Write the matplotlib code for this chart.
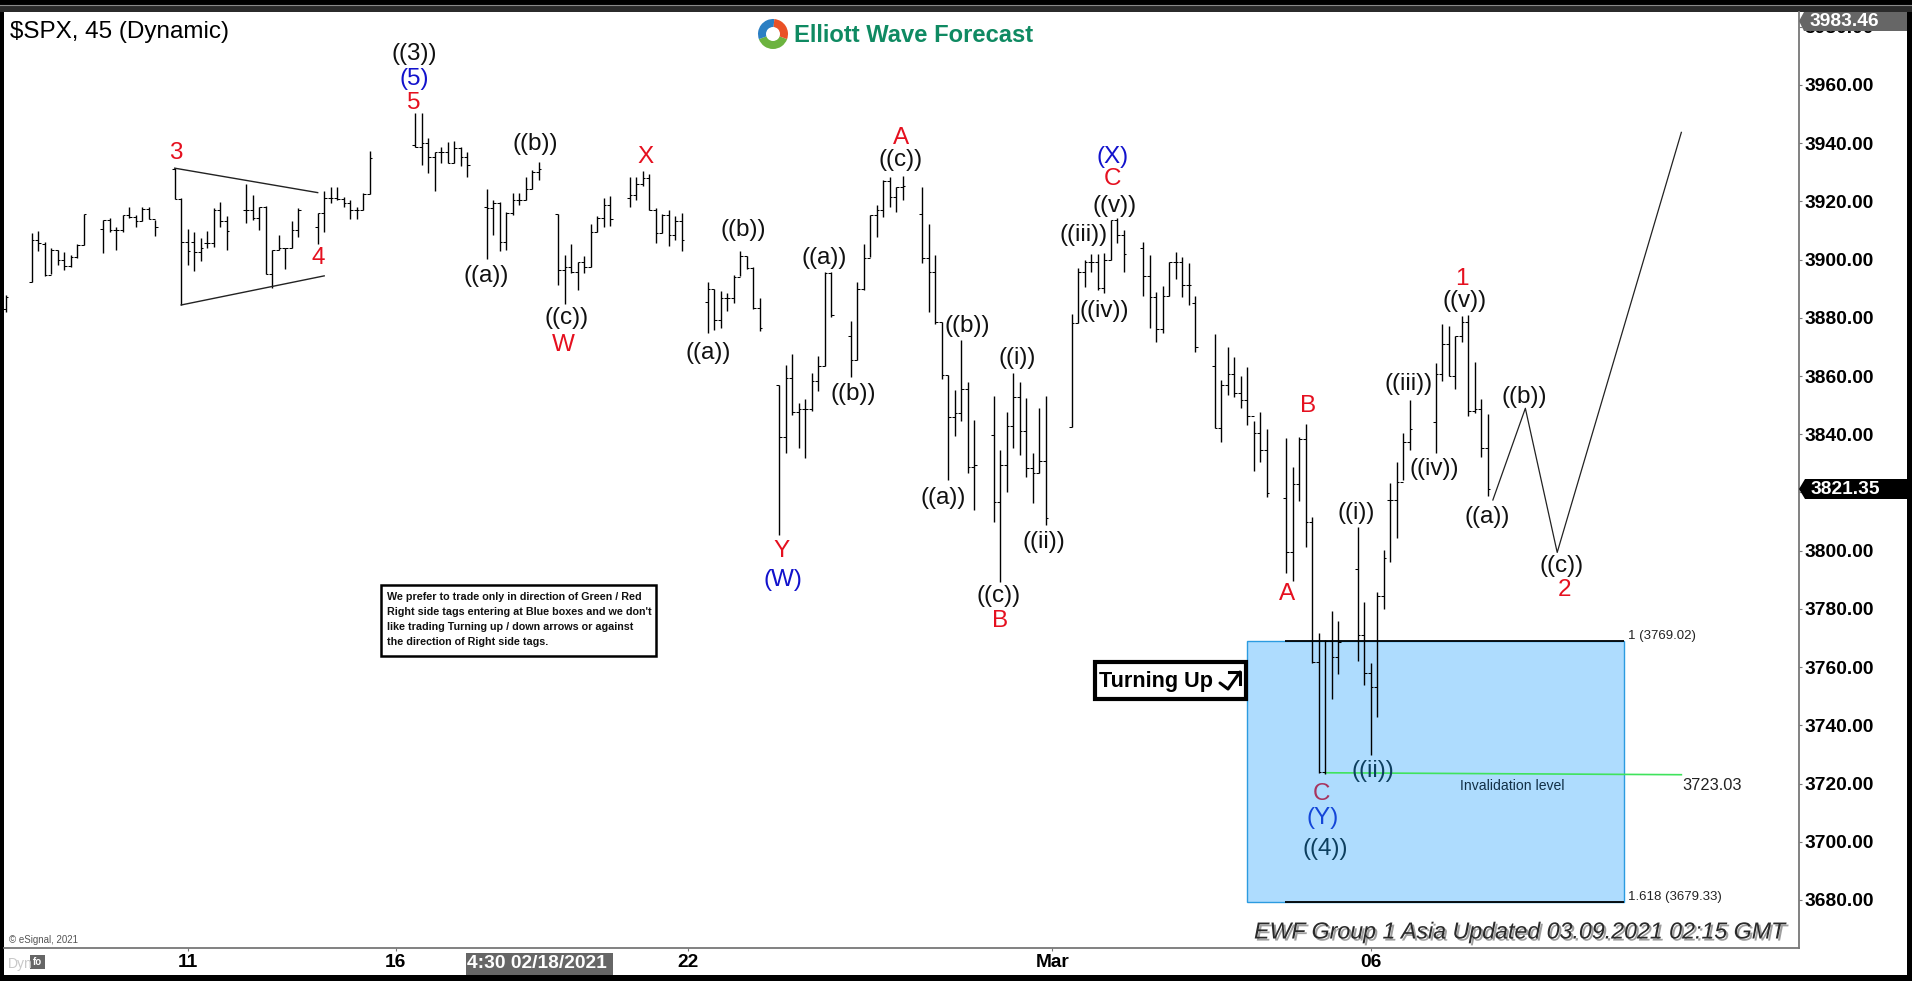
import matplotlib
matplotlib.use('Agg')
import matplotlib.pyplot as plt
from matplotlib.patches import Rectangle, Polygon, Wedge, Circle
import matplotlib.patheffects as pe

plt.rcParams['font.family'] = ['Liberation Sans', 'DejaVu Sans']

W, H = 1912, 981

# 45 minute bars, slot = bar number on the time axis (gaps are overnight)
slots = [0,
         4, 5, 6, 7, 8, 9, 10, 11, 12,
         15, 16, 17, 18, 19, 20, 21, 22, 23,
         26, 27, 28, 29, 30, 31, 32, 33, 34,
         37, 38, 39, 40, 41, 42, 43, 44, 45,
         48, 49, 50, 51, 52, 53, 54, 55, 56,
         63, 64, 65, 66, 67, 68, 69, 70, 71,
         74, 75, 76, 77, 78, 79, 80, 81, 82,
         85, 86, 87, 88, 89, 90, 91, 92, 93,
         96, 97, 98, 99, 100, 101, 102, 103, 104,
         108, 109, 110, 111, 112, 113, 114, 115, 116,
         119, 120, 121, 122, 123, 124, 125, 126, 127,
         130, 131, 132, 133, 134, 135, 136, 137, 138,
         141, 142, 143, 144, 145, 146, 147, 148, 149,
         152, 153, 154, 155, 156, 157, 158, 159, 160,
         164, 165, 166, 167, 168, 169, 170, 171, 172,
         175, 176, 177, 178, 179, 180, 181, 182, 183,
         186, 187, 188, 189, 190, 191, 192, 193, 194,
         197, 198, 199, 200, 201, 202, 203, 204, 205,
         208, 209, 210, 211, 212, 213, 214, 215, 216,
         220, 221, 222, 223, 224, 225, 226, 227, 228]

highs = [3887.9,
         3909.0, 3909.9, 3906.2, 3903.9, 3903.3, 3902.7, 3901.6, 3905.3, 3915.7,
         3913.6, 3914.2, 3911.3, 3915.3, 3918.0, 3915.3, 3918.0, 3918.2, 3913.6,
         3931.4, 3921.1, 3910.4, 3909.4, 3907.3, 3909.9, 3917.6, 3919.9, 3914.8,
         3926.0, 3922.2, 3918.2, 3918.4, 3903.3, 3908.5, 3903.9, 3913.1, 3917.6,
         3916.1, 3923.6, 3924.8, 3924.8, 3921.6, 3920.5, 3918.0, 3922.8, 3937.3,
         3950.3, 3950.3, 3941.7, 3936.8, 3938.8, 3940.5, 3940.6, 3938.8, 3936.8,
         3924.3, 3920.5, 3919.9, 3916.5, 3923.0, 3923.0, 3928.3, 3930.8, 3933.4,
         3915.6, 3901.6, 3905.4, 3899.3, 3901.3, 3912.3, 3914.8, 3921.1, 3921.9,
         3928.5, 3928.2, 3930.5, 3929.3, 3917.6, 3915.6, 3917.1, 3914.8, 3915.9,
         3892.2, 3889.9, 3889.2, 3888.4, 3894.7, 3902.8, 3901.3, 3897.6, 3886.7,
         3856.9, 3863.8, 3867.6, 3850.7, 3852.1, 3860.9, 3866.9, 3895.9, 3895.9,
         3878.9, 3892.2, 3905.4, 3915.3, 3918.8, 3927.4, 3928.2, 3925.1, 3928.7,
         3924.9, 3912.3, 3901.6, 3878.7, 3860.4, 3855.2, 3872.4, 3857.9, 3844.9,
         3853.2, 3834.6, 3847.8, 3860.9, 3857.9, 3852.4, 3833.5, 3848.9, 3853.2,
         3881.3, 3897.0, 3899.9, 3901.8, 3901.8, 3902.2, 3913.6, 3914.2, 3910.2,
         3906.2, 3901.6, 3889.0, 3891.0, 3899.3, 3902.5, 3900.8, 3898.7, 3887.5,
         3874.4, 3858.7, 3869.9, 3866.5, 3860.0, 3863.0, 3844.4, 3847.8, 3841.7,
         3838.6, 3828.9, 3839.2, 3843.4, 3811.5, 3771.6, 3769.4, 3779.3, 3775.9,
         3808.3, 3782.3, 3761.3, 3785.7, 3800.3, 3823.4, 3830.4, 3840.4, 3851.8,
         3864.4, 3877.9, 3877.2, 3873.8, 3880.7, 3881.1, 3864.7, 3852.0, 3847.0]

lows = [3882.1,
        3892.4, 3902.8, 3894.2, 3895.0, 3898.2, 3896.5, 3897.6, 3900.5, 3905.0,
        3902.4, 3909.6, 3903.3, 3909.6, 3914.2, 3911.3, 3913.1, 3913.9, 3908.1,
        3920.8, 3884.4, 3898.2, 3896.2, 3899.6, 3903.9, 3904.2, 3911.3, 3903.3,
        3912.5, 3913.6, 3910.2, 3895.0, 3890.2, 3903.3, 3896.8, 3903.9, 3907.6,
        3905.4, 3909.6, 3919.4, 3920.5, 3918.2, 3913.9, 3913.9, 3917.1, 3922.6,
        3938.8, 3932.5, 3929.7, 3923.7, 3933.1, 3933.1, 3933.1, 3932.3, 3928.5,
        3900.1, 3908.5, 3902.8, 3903.3, 3915.3, 3918.6, 3920.5, 3924.2, 3927.4,
        3891.3, 3884.8, 3895.3, 3889.4, 3895.3, 3897.4, 3909.6, 3911.3, 3911.6,
        3918.2, 3920.5, 3925.4, 3917.1, 3905.6, 3909.0, 3904.5, 3906.8, 3902.8,
        3874.7, 3875.8, 3876.4, 3882.5, 3885.2, 3894.2, 3896.7, 3882.9, 3875.3,
        3805.4, 3833.7, 3846.6, 3835.4, 3832.0, 3848.0, 3854.7, 3863.3, 3880.4,
        3859.5, 3865.5, 3889.6, 3900.8, 3907.9, 3914.5, 3918.0, 3916.5, 3920.5,
        3898.8, 3882.1, 3877.9, 3858.9, 3824.3, 3839.5, 3844.4, 3826.6, 3813.8,
        3809.7, 3789.4, 3820.3, 3835.4, 3832.9, 3825.2, 3816.5, 3826.8, 3808.9,
        3842.4, 3878.1, 3890.5, 3895.9, 3889.6, 3888.4, 3899.9, 3905.8, 3895.9,
        3887.5, 3876.6, 3871.8, 3874.7, 3887.5, 3893.2, 3887.3, 3884.4, 3868.4,
        3842.1, 3837.5, 3853.5, 3852.7, 3848.9, 3843.0, 3827.5, 3830.6, 3818.6,
        3792.3, 3789.7, 3816.9, 3801.4, 3761.3, 3723.5, 3723.3, 3749.2, 3757.7,
        3762.1, 3753.9, 3729.9, 3743.0, 3779.9, 3796.0, 3804.3, 3824.3, 3834.6,
        3833.5, 3858.4, 3860.1, 3855.6, 3871.6, 3846.4, 3847.2, 3832.3, 3818.9]

opens = [3883.0,
         3892.4, 3906.8, 3905.5, 3894.7, 3903.3, 3899.7, 3897.8, 3901.0, 3905.0,
         3910.4, 3913.6, 3910.2, 3910.2, 3915.3, 3914.5, 3913.3, 3917.4, 3914.0,
         3931.0, 3920.8, 3906.0, 3906.0, 3902.5, 3905.6, 3905.6, 3917.1, 3913.3,
         3917.1, 3917.1, 3914.4, 3918.0, 3895.0, 3903.3, 3903.9, 3903.9, 3910.2,
         3911.3, 3916.1, 3921.3, 3921.1, 3920.8, 3919.4, 3917.1, 3917.1, 3922.6,
         3939.2, 3938.8, 3940.0, 3935.4, 3936.8, 3936.8, 3933.1, 3938.2, 3935.2,
         3918.2, 3917.6, 3919.6, 3906.0, 3915.9, 3920.5, 3920.5, 3924.2, 3930.2,
         3915.6, 3896.5, 3897.3, 3895.6, 3899.1, 3897.4, 3909.6, 3914.4, 3918.8,
         3921.1, 3922.2, 3925.9, 3927.9, 3917.1, 3909.0, 3915.3, 3908.5, 3913.3,
         3885.3, 3889.9, 3879.3, 3886.7, 3886.7, 3893.9, 3901.3, 3897.0, 3883.3,
         3856.9, 3839.0, 3859.2, 3847.8, 3848.6, 3848.6, 3858.3, 3863.3, 3895.3,
         3873.8, 3865.5, 3889.8, 3900.5, 3915.3, 3917.1, 3927.0, 3921.6, 3925.1,
         3915.7, 3900.5, 3895.6, 3878.7, 3860.4, 3845.8, 3847.2, 3855.5, 3828.7,
         3839.8, 3816.7, 3829.5, 3842.9, 3852.7, 3841.2, 3828.3, 3826.8, 3830.8,
         3842.4, 3878.1, 3895.6, 3899.3, 3899.3, 3890.2, 3899.9, 3913.6, 3908.5,
         3903.9, 3894.2, 3887.3, 3876.2, 3887.6, 3899.3, 3899.3, 3891.1, 3885.0,
         3863.6, 3842.3, 3856.9, 3860.6, 3854.1, 3851.8, 3846.1, 3840.3, 3834.6,
         3818.2, 3799.5, 3822.9, 3838.3, 3809.8, 3761.9, 3723.8, 3769.1, 3763.4,
         3793.7, 3771.1, 3757.9, 3753.3, 3784.5, 3817.4, 3817.4, 3823.7, 3837.3,
         3844.1, 3860.6, 3870.9, 3860.1, 3873.6, 3878.5, 3848.0, 3848.6, 3835.4]

closes = [3887.3,
          3906.8, 3905.6, 3894.7, 3903.3, 3899.7, 3897.8, 3901.0, 3905.0, 3915.7,
          3913.6, 3910.2, 3910.2, 3915.3, 3914.5, 3913.3, 3917.4, 3914.0, 3911.1,
          3920.8, 3906.0, 3902.8, 3902.5, 3903.9, 3905.6, 3917.1, 3913.3, 3909.8,
          3917.1, 3914.4, 3918.2, 3895.0, 3903.3, 3903.9, 3903.9, 3910.2, 3917.0,
          3916.1, 3921.3, 3921.1, 3920.8, 3919.4, 3917.1, 3917.1, 3922.6, 3934.8,
          3938.8, 3940.0, 3935.4, 3936.8, 3936.8, 3933.1, 3938.2, 3935.2, 3932.5,
          3917.6, 3919.6, 3906.0, 3915.9, 3920.5, 3920.5, 3924.2, 3930.2, 3931.1,
          3896.5, 3897.3, 3895.6, 3899.1, 3897.4, 3909.6, 3914.4, 3918.8, 3913.9,
          3922.2, 3925.9, 3927.9, 3917.1, 3909.0, 3915.3, 3908.5, 3913.3, 3906.8,
          3889.9, 3879.3, 3886.7, 3886.7, 3893.9, 3901.3, 3897.0, 3883.3, 3876.4,
          3839.0, 3859.2, 3847.8, 3848.6, 3848.6, 3858.3, 3863.3, 3895.3, 3881.0,
          3865.5, 3889.8, 3900.5, 3915.3, 3917.1, 3927.0, 3921.6, 3925.1, 3925.3,
          3900.5, 3895.6, 3878.7, 3860.4, 3845.8, 3847.2, 3855.5, 3828.7, 3829.5,
          3816.7, 3829.5, 3842.9, 3852.7, 3841.2, 3828.3, 3826.8, 3830.8, 3811.1,
          3878.1, 3895.6, 3899.3, 3899.3, 3890.2, 3899.9, 3913.6, 3908.5, 3901.8,
          3894.2, 3887.3, 3876.2, 3887.6, 3899.3, 3899.3, 3891.1, 3891.1, 3870.1,
          3842.3, 3856.9, 3860.6, 3854.1, 3851.8, 3846.1, 3840.3, 3834.6, 3819.7,
          3799.5, 3822.9, 3838.3, 3809.8, 3761.9, 3723.8, 3769.1, 3763.4, 3768.6,
          3771.1, 3757.9, 3753.3, 3784.5, 3797.6, 3817.4, 3823.7, 3837.3, 3841.7,
          3860.6, 3870.9, 3860.1, 3873.6, 3878.5, 3848.0, 3848.6, 3835.4, 3821.2]

y_ticks = [3680, 3700, 3720, 3740, 3760, 3780, 3800, 3820, 3840, 3860, 3880, 3900, 3920, 3940, 3960, 3980]
x_tick_slots = [28, 60, 105, 161, 210]
x_tick_labels = ['11', '16', '22', 'Mar', '06']

triangle_top_x = [26, 48]
triangle_top_y = [3931.4, 3923.0]
triangle_low_x = [27, 49]
triangle_low_y = [3884.4, 3894.4]

path_x = [228.8, 233.8, 238.7, 257.8]
path_y = [3817.4, 3848.9, 3799.4, 3943.7]

box_slots = [190.9, 248.9]
box_line_start = 196.8
fib_1 = 3769.02
fib_1618 = 3679.33
invalid_x = [203, 257.8]
invalid_y = [3723.7, 3723.03]

RED = '#e5101f'
BLUE = '#1212cc'
INK = '#111111'
# labels sitting in the blue box look tinted in the original
wave_labels = [
    ('((3))', 414, 53, INK), ('(5)', 414, 78, BLUE), ('5', 414, 102, RED),
    ('3', 176, 152, RED), ('4', 318, 257, RED),
    ('((a))', 486, 275, INK), ('((b))', 535, 143, INK), ('((c))', 567, 317, INK),
    ('W', 563, 344, RED), ('X', 646, 156, RED),
    ('((b))', 743, 229, INK), ('((a))', 708, 352, INK),
    ('((a))', 824, 257, INK), ('((b))', 853, 393, INK),
    ('A', 901, 137, RED), ('((c))', 901, 159, INK),
    ('(X)', 1113, 156, BLUE), ('C', 1113, 178, RED), ('((v))', 1115, 205, INK),
    ('((iii))', 1084, 234, INK), ('((iv))', 1104, 310, INK),
    ('((b))', 967, 325, INK), ('((i))', 1017, 357, INK), ('((a))', 943, 497, INK),
    ('((ii))', 1044, 541, INK), ('((c))', 999, 595, INK), ('B', 1000, 620, RED),
    ('Y', 782, 550, RED), ('(W)', 783, 579, BLUE),
    ('1', 1462, 278, RED), ('((v))', 1465, 300, INK),
    ('B', 1308, 405, RED), ('A', 1287, 593, RED), ('((i))', 1356, 512, INK),
    ('((iii))', 1409, 383, INK), ('((iv))', 1434, 468, INK), ('((a))', 1487, 516, INK),
    ('((b))', 1524, 396, INK), ('((c))', 1562, 565, INK), ('2', 1565, 589, RED),
    ('((ii))', 1373, 770, '#0d3f5f'), ('C', 1322, 793, '#a8345e'),
    ('(Y)', 1323, 817, '#1446d8'), ('((4))', 1325, 848, '#0d3f5f'),
]


def px_axes(fig, zorder):
    # axes covering the whole figure, measured in image pixels
    ax = fig.add_axes([0, 0, 1, 1], zorder=zorder)
    ax.set_xlim(0, W)
    ax.set_ylim(H, 0)
    ax.axis('off')
    ax.patch.set_alpha(0)
    return ax


fig = plt.figure(figsize=(W / 100, H / 100), dpi=100, facecolor='black')

back = px_axes(fig, 0)
back.add_patch(Rectangle((4, 12), 1903, 963, fc='white', ec='none'))
back.add_patch(Rectangle((0, 5), W, 7, fc='#2b2b2b', ec='none'))
back.plot([0, W], [5, 5], color='#8a8a8a', lw=0.8)

ax = fig.add_axes([4 / W, (H - 948) / H, 1795 / W, 936 / H], zorder=1)
ax.patch.set_alpha(0)
ax.set_xlim(-0.26, 275.9)
ax.set_ylim(3663.5, 3985.05)

ax.add_patch(Rectangle((box_slots[0], fib_1618), box_slots[1] - box_slots[0], fib_1 - fib_1618,
                       fc='#aedcfe', ec='#2b9be0', lw=1.0, zorder=1))
ax.hlines([fib_1, fib_1618], box_line_start, box_slots[1], color='black', lw=1.3, zorder=2)
ax.plot(invalid_x, invalid_y, color='#3fe35c', lw=1.2, zorder=2)

ax.vlines(slots, lows, highs, color='black', lw=1.0, zorder=3)
ax.hlines(opens, [s - 0.42 for s in slots], slots, color='black', lw=0.75, zorder=3)
ax.hlines(closes, slots, [s + 0.42 for s in slots], color='black', lw=0.75, zorder=3)

ax.plot(triangle_top_x, triangle_top_y, color='#222222', lw=1.0, zorder=3)
ax.plot(triangle_low_x, triangle_low_y, color='#222222', lw=1.0, zorder=3)
ax.plot(path_x, path_y, color='#222222', lw=0.9, zorder=3)

for s in ['top', 'left']:
    ax.spines[s].set_visible(False)
for s in ['right', 'bottom']:
    ax.spines[s].set_color('#777777')
    ax.spines[s].set_linewidth(1.3)
ax.yaxis.tick_right()
ax.set_yticks(y_ticks)
# the 3820 label sits fully under the black price tag, so it has no text
ax.set_yticklabels(['' if v == 3820 else '%.2f' % v for v in y_ticks],
                   fontweight='bold', fontsize=13.8, color='black')
ax.set_xticks(x_tick_slots)
ax.set_xticklabels(x_tick_labels, fontweight='bold', fontsize=13.8, color='black')
ax.tick_params(axis='y', length=2.5, width=0.8, color='#777777', pad=1.5)
ax.tick_params(axis='x', length=2.5, width=0.8, color='#777777', pad=1.5)

top = px_axes(fig, 5)

for text, x, y, colour in wave_labels:
    top.text(x, y + 1, text, fontsize=17.5, color=colour, ha='center', va='center')

top.text(10, 32, '$SPX, 45 (Dynamic)', fontsize=17.5, color='black', va='center', parse_math=False)

# logo
top.add_patch(Wedge((773, 34), 15, 20, 160, fc='#6cb33f', ec='none'))
top.add_patch(Wedge((773, 34), 15, 160, 275, fc='#2b7fc3', ec='none'))
top.add_patch(Wedge((773, 34), 15, 275, 380, fc='#ea5126', ec='none'))
top.add_patch(Circle((773, 34), 7, fc='white', ec='none'))
top.text(794, 36, 'Elliott Wave Forecast', fontsize=17.1, fontweight='bold', color='#0f8a62', va='center')

# price tags on the right
top.add_patch(Polygon([(1799, 21), (1804, 12), (1907, 12), (1907, 31), (1804, 31)], fc='#666666', ec='none'))
top.text(1810, 21, '3983.46', fontsize=13.8, fontweight='bold', color='white', va='center')
top.add_patch(Polygon([(1799, 489), (1805, 479), (1907, 479), (1907, 499), (1805, 499)], fc='black', ec='none'))
top.text(1811, 489, '3821.35', fontsize=13.8, fontweight='bold', color='white', va='center')

# crosshair date tag and bottom left bits
top.add_patch(Rectangle((466, 953), 147, 22, fc='#666666', ec='none'))
top.text(467, 964, '4:30 02/18/2021', fontsize=13.8, fontweight='bold', color='white', va='center')
top.text(8, 964, 'Dyn', fontsize=10, color='#c8c8c8', va='center')
top.add_patch(Rectangle((30, 955), 15, 14, fc='#666666', ec='none'))
top.text(37.5, 962, 'fo', fontsize=7, fontweight='bold', color='white', ha='center', va='center')
top.text(9, 940, '© eSignal, 2021', fontsize=7, color='#555555', va='center')

# notes
top.add_patch(Rectangle((381, 585), 275, 71, fc='white', ec='black', lw=1.8))
note_lines = ['We prefer to trade only in direction of Green / Red',
              "Right side tags entering at Blue boxes and we don't",
              'like trading Turning up / down arrows or against',
              'the direction of Right side tags.']
for line, y in zip(note_lines, [597, 612, 627, 642]):
    top.text(387, y, line, fontsize=7.75, fontweight='bold', color='#111111', va='center')

top.add_patch(Rectangle((1095, 662), 151, 37, fc='white', ec='black', lw=3))
top.text(1099, 681, 'Turning Up', fontsize=15.6, fontweight='bold', color='black', va='center')
top.plot([1220, 1228, 1240], [683, 689, 672], color='black', lw=2.2, solid_capstyle='round')
top.plot([1229, 1240, 1240], [672, 672, 684], color='black', lw=2.2)

top.text(1628, 636, '1 (3769.02)', fontsize=9.5, color='#222222', va='center')
top.text(1628, 897, '1.618 (3679.33)', fontsize=9.5, color='#222222', va='center')
top.text(1512, 786, 'Invalidation level', fontsize=10.1, color='#123046', ha='center', va='center')
top.text(1682, 786, '3723.03', fontsize=11.8, color='#222222', va='center')

top.text(1254, 932, 'EWF Group 1 Asia Updated 03.09.2021 02:15 GMT', fontsize=16.7, style='italic',
         color='#2a2a2a', va='center',
         path_effects=[pe.withSimplePatchShadow(offset=(1.5, -1.5), shadow_rgbFace='#777777', alpha=0.7)])

fig.savefig('out.png', dpi=100, facecolor='black')
